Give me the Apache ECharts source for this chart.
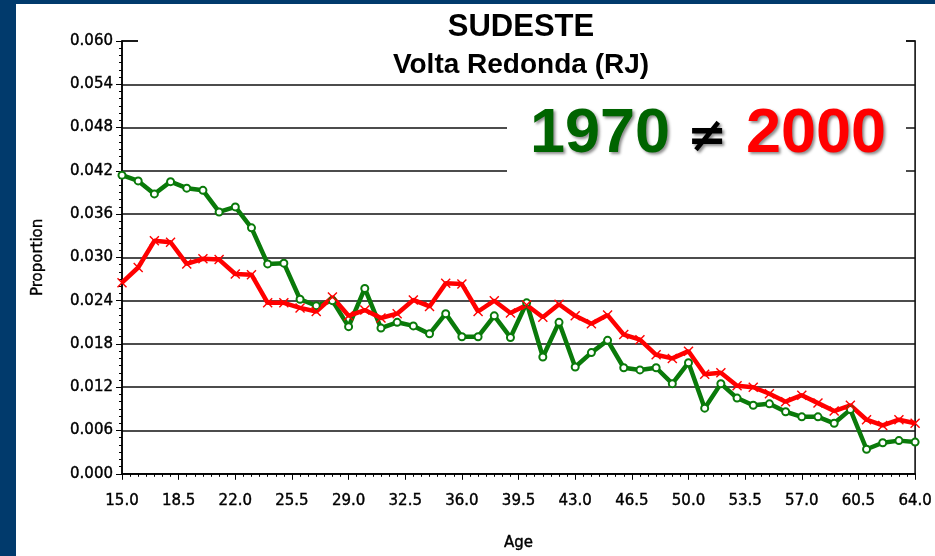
<!DOCTYPE html>
<html lang="en">
<head>
    <meta charset="UTF-8">
    <title>SUDESTE - Volta Redonda (RJ)</title>
    <script src="https://cdn.jsdelivr.net/npm/echarts@6/dist/echarts.min.js"></script>
</head>
<style>
    *{
        margin: 0;
        padding: 0;
    }
    html,body{
        width: 100%;
        height: 100%;
        overflow: hidden;
        background: #fff;
    }
    .container{
        width: 919px;
        height: 552px;
        border-left: 16px solid #013a6c;
        border-top: 4px solid #013a6c;
        background: #fff;
    }
</style>
<body>
<div class="container"></div>
<script>
   // age groups on the x axis
   let ages = [15,16,17,18,19,20,21,22,23,24,25,26,27,28,29,30,31,32,33,34,
               35,36,37,38,39,40,41,42,43,44,45,46,47,48,49,50,51,52,53,54,
               55,56,57,58,59,60,61,62,63,64];

   // proportion by age, 1970 (green)
   let prop1970 = [0.0414,0.0406,0.0388,0.0405,0.0396,0.0393,0.0363,0.0370,0.0341,0.0291,
                   0.0292,0.0242,0.0233,0.0240,0.0204,0.0257,0.0202,0.0210,0.0205,0.0194,
                   0.0222,0.0190,0.0190,0.0219,0.0189,0.0237,0.0162,0.0210,0.0148,0.0168,
                   0.0185,0.0147,0.0144,0.0147,0.0125,0.0154,0.0091,0.0125,0.0105,0.0095,
                   0.0097,0.0086,0.0079,0.0079,0.0070,0.0089,0.0034,0.0043,0.0046,0.0044];

   // proportion by age, 2000 (red)
   let prop2000 = [0.0265,0.0286,0.0323,0.0321,0.0291,0.0298,0.0297,0.0277,0.0276,0.0237,
                   0.0237,0.0230,0.0225,0.0245,0.0219,0.0227,0.0216,0.0222,0.0241,0.0232,
                   0.0264,0.0263,0.0225,0.0240,0.0223,0.0234,0.0217,0.0235,0.0219,0.0208,
                   0.0220,0.0193,0.0186,0.0165,0.0160,0.0170,0.0138,0.0140,0.0122,0.0120,
                   0.0111,0.0100,0.0109,0.0098,0.0087,0.0095,0.0075,0.0067,0.0075,0.0070];

   let titleText = 'SUDESTE';
   let subText = 'Volta Redonda (RJ)';
   let xName = 'Age';
   let yName = 'Proportion';

   let container = document.querySelector('.container');
   let mycharts = echarts.init(container);

   let axisFont = 'DejaVu Sans';
   let crossSymbol = 'path://M0,1L1,0L5,4L9,0L10,1L6,5L10,9L9,10L5,6L1,10L0,9L4,5Z';
   let shadow = {textShadowColor: 'rgba(0,0,0,0.45)', textShadowBlur: 3, textShadowOffsetX: 2, textShadowOffsetY: 2};

   let options = {
       animation: false,
       backgroundColor: '#fff',
       grid: {
           left: 106,
           top: 37,
           right: 15,
           bottom: 82,
           show: true,
           borderColor: '#000',
           borderWidth: 1.5
       },
       xAxis: {
           type: 'value',
           min: 15,
           max: 64,
           interval: 3.5,
           name: xName,
           nameLocation: 'middle',
           nameGap: 62,
           nameTextStyle: {color: '#000', fontFamily: axisFont, fontSize: 15, textBorderColor: '#000', textBorderWidth: 0.4},
           axisLine: {lineStyle: {color: '#000', width: 1.5}},
           axisTick: {show: true, length: 6, lineStyle: {color: '#000'}},
           minorTick: {show: true, splitNumber: 7, length: 3, lineStyle: {color: '#000'}},
           splitLine: {show: false},
           axisLabel: {
               color: '#000',
               fontFamily: axisFont,
               fontSize: 15,
               margin: 20,
               textBorderColor: '#000',
               textBorderWidth: 0.4,
               formatter: v => v.toFixed(1)
           }
       },
       yAxis: {
           type: 'value',
           min: 0,
           max: 0.060,
           interval: 0.006,
           name: yName,
           nameLocation: 'middle',
           nameGap: 76,
           nameTextStyle: {color: '#000', fontFamily: axisFont, fontSize: 15, textBorderColor: '#000', textBorderWidth: 0.4},
           axisLine: {show: true, lineStyle: {color: '#000', width: 1.5}},
           axisTick: {show: true, length: 6, lineStyle: {color: '#000'}},
           minorTick: {show: true, splitNumber: 6, length: 3, lineStyle: {color: '#000'}},
           splitLine: {show: true, lineStyle: {color: '#111', width: 1.5}},
           axisLabel: {
               color: '#000',
               fontFamily: axisFont,
               fontSize: 15,
               margin: 9,
               textBorderColor: '#000',
               textBorderWidth: 0.4,
               formatter: v => v.toFixed(3)
           }
       },
       graphic: [
           // white boxes behind the texts hide the grid lines
           {type: 'rect', z: 50, shape: {x: 122, y: 0, width: 768, height: 50}, style: {fill: '#fff'}},
           {type: 'rect', z: 50, shape: {x: 491, y: 91, width: 399, height: 90}, style: {fill: '#fff'}},
           {type: 'text', z: 60, x: 505, y: 23,
               style: {text: titleText, fill: '#000', font: 'bold 31px "Liberation Sans", Arial',
                   align: 'center', verticalAlign: 'middle', textAlign: 'center', textVerticalAlign: 'middle'}},
           {type: 'text', z: 60, x: 505, y: 61,
               style: {text: subText, fill: '#000', font: 'bold 28px "Liberation Sans", Arial',
                   align: 'center', verticalAlign: 'middle', textAlign: 'center', textVerticalAlign: 'middle'}},
           {type: 'text', z: 60, x: 514, y: 131,
               style: Object.assign({text: '1970', fill: '#006400', font: 'bold 63px "Liberation Sans", Arial',
                   align: 'left', verticalAlign: 'middle', textAlign: 'left', textVerticalAlign: 'middle'}, shadow)},
           {type: 'text', z: 60, x: 691, y: 135,
               style: Object.assign({text: '≠', fill: '#000', font: 'bold 48px "DejaVu Sans"',
                   align: 'center', verticalAlign: 'middle', textAlign: 'center', textVerticalAlign: 'middle'}, shadow)},
           {type: 'text', z: 60, x: 730, y: 131,
               style: Object.assign({text: '2000', fill: '#ff0000', font: 'bold 63px "Liberation Sans", Arial',
                   align: 'left', verticalAlign: 'middle', textAlign: 'left', textVerticalAlign: 'middle'}, shadow)}
       ],
       series: [
           {
               name: '1970',
               type: 'line',
               data: ages.map((a, i) => [a, prop1970[i]]),
               symbol: 'emptyCircle',
               symbolSize: 7,
               lineStyle: {color: '#0a7a0a', width: 4.5},
               itemStyle: {color: '#0a7a0a', borderColor: '#0a7a0a', borderWidth: 1.5}
           },
           {
               name: '2000',
               type: 'line',
               data: ages.map((a, i) => [a, prop2000[i]]),
               symbol: crossSymbol,
               symbolSize: 10,
               lineStyle: {color: '#ff0000', width: 4.5},
               itemStyle: {color: '#ff0000'}
           }
       ]
   };

   mycharts.setOption(options);
</script>

</body>
</html>
